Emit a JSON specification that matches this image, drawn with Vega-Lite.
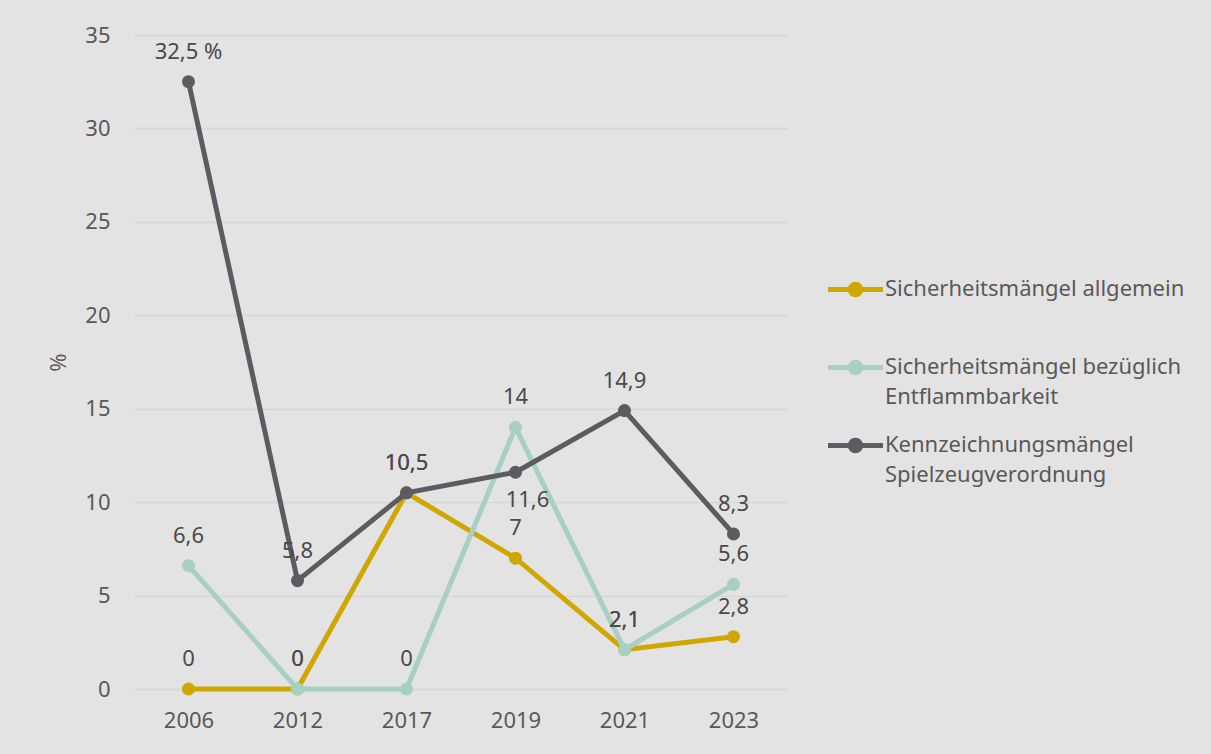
{
  "$schema": "https://vega.github.io/schema/vega-lite/v6.json",
  "width": 654,
  "height": 654,
  "autosize": {"type": "none"},
  "padding": {"left": 134, "top": 35, "right": 423, "bottom": 65},
  "background": "#e3e3e3",
  "config": {
    "view": {"stroke": null},
    "font": "Noto Sans",
    "axis": {"labelFont": "Noto Sans", "titleFont": "Noto Sans"},
    "legend": {"labelFont": "Noto Sans"}
  },
  "data": {
    "values": [
      {"jahr": "2006", "serie": "Sicherheitsmängel allgemein", "wert": 0, "label": "0"},
      {"jahr": "2012", "serie": "Sicherheitsmängel allgemein", "wert": 0, "label": "0"},
      {"jahr": "2017", "serie": "Sicherheitsmängel allgemein", "wert": 10.5, "label": "10,5"},
      {"jahr": "2019", "serie": "Sicherheitsmängel allgemein", "wert": 7, "label": "7"},
      {"jahr": "2021", "serie": "Sicherheitsmängel allgemein", "wert": 2.1, "label": "2,1"},
      {"jahr": "2023", "serie": "Sicherheitsmängel allgemein", "wert": 2.8, "label": "2,8"},
      {"jahr": "2006", "serie": "Sicherheitsmängel bezüglich Entflammbarkeit", "wert": 6.6, "label": "6,6"},
      {"jahr": "2012", "serie": "Sicherheitsmängel bezüglich Entflammbarkeit", "wert": 0, "label": "0"},
      {"jahr": "2017", "serie": "Sicherheitsmängel bezüglich Entflammbarkeit", "wert": 0, "label": "0"},
      {"jahr": "2019", "serie": "Sicherheitsmängel bezüglich Entflammbarkeit", "wert": 14, "label": "14"},
      {"jahr": "2021", "serie": "Sicherheitsmängel bezüglich Entflammbarkeit", "wert": 2.1, "label": "2,1"},
      {"jahr": "2023", "serie": "Sicherheitsmängel bezüglich Entflammbarkeit", "wert": 5.6, "label": "5,6"},
      {"jahr": "2006", "serie": "Kennzeichnungsmängel Spielzeugverordnung", "wert": 32.5, "label": "32,5 %"},
      {"jahr": "2012", "serie": "Kennzeichnungsmängel Spielzeugverordnung", "wert": 5.8, "label": "5,8"},
      {"jahr": "2017", "serie": "Kennzeichnungsmängel Spielzeugverordnung", "wert": 10.5, "label": "10,5"},
      {"jahr": "2019", "serie": "Kennzeichnungsmängel Spielzeugverordnung", "wert": 11.6, "label": "11,6"},
      {"jahr": "2021", "serie": "Kennzeichnungsmängel Spielzeugverordnung", "wert": 14.9, "label": "14,9"},
      {"jahr": "2023", "serie": "Kennzeichnungsmängel Spielzeugverordnung", "wert": 8.3, "label": "8,3"}
    ]
  },
  "encoding": {
    "x": {
      "field": "jahr",
      "type": "ordinal",
      "scale": {"type": "point", "padding": 0.5},
      "axis": {
        "title": null,
        "labelAngle": 0,
        "domain": false,
        "ticks": false,
        "grid": false,
        "labelFontSize": 22,
        "labelColor": "#595959",
        "labelPadding": 21
      }
    },
    "y": {
      "field": "wert",
      "type": "quantitative",
      "scale": {"domain": [0, 35], "nice": false},
      "axis": {
        "title": "%",
        "titleFontSize": 22,
        "titleFontWeight": "normal",
        "titleColor": "#595959",
        "titlePadding": 14,
        "values": [0, 5, 10, 15, 20, 25, 30, 35],
        "domain": false,
        "ticks": false,
        "gridColor": "#d6d6d6",
        "gridWidth": 1.5,
        "labelFontSize": 22,
        "labelColor": "#595959",
        "labelPadding": 24
      }
    }
  },
  "layer": [
    {
      "transform": [{"filter": "datum.serie == 'Sicherheitsmängel allgemein'"}],
      "mark": {"type": "line", "strokeWidth": 5, "point": {"filled": true, "size": 170, "opacity": 1}},
      "encoding": {
        "color": {
          "field": "serie",
          "type": "nominal",
          "scale": {
            "domain": ["Sicherheitsmängel allgemein", "Sicherheitsmängel bezüglich Entflammbarkeit", "Kennzeichnungsmängel Spielzeugverordnung"],
            "range": ["#cfa700", "#a8cfc3", "#5b5b62"]
          },
          "legend": {
            "title": null,
            "orient": "none",
            "legendX": 694,
            "legendY": 227,
            "padding": 0,
            "symbolType": "M-1,-0.09L1,-0.09L1,0.09L-1,0.09Z M0.28,0A0.28,0.28 0 1,1 -0.28,0A0.28,0.28 0 1,1 0.28,0Z",
            "symbolSize": 3025,
            "symbolStrokeWidth": 0,
            "labelFontSize": 22,
            "labelColor": "#595959",
            "labelLimit": 400,
            "labelOffset": 2,
            "labelBaseline": "top",
            "rowPadding": 10,
            "labelExpr": "datum.label == 'Sicherheitsmängel allgemein' ? ['Sicherheitsmängel allgemein', ''] : datum.label == 'Sicherheitsmängel bezüglich Entflammbarkeit' ? ['Sicherheitsmängel bezüglich', 'Entflammbarkeit'] : ['Kennzeichnungsmängel', 'Spielzeugverordnung']",
            "encode": {
              "symbols": {"update": {"fill": {"scale": "color", "field": "value"}, "strokeWidth": {"value": 0}}},
              "labels": {"update": {"dy": {"value": -11}, "lineHeight": {"value": 30}}}
            }
          }
        }
      }
    },
    {
      "transform": [{"filter": "datum.serie == 'Sicherheitsmängel bezüglich Entflammbarkeit'"}],
      "mark": {"type": "line", "strokeWidth": 5, "point": {"filled": true, "size": 170, "opacity": 1}},
      "encoding": {"color": {"field": "serie", "type": "nominal"}}
    },
    {
      "transform": [{"filter": "datum.serie == 'Kennzeichnungsmängel Spielzeugverordnung'"}],
      "mark": {"type": "line", "strokeWidth": 5, "point": {"filled": true, "size": 170, "opacity": 1}},
      "encoding": {"color": {"field": "serie", "type": "nominal"}}
    },
    {
      "transform": [{"filter": "!(datum.serie == 'Kennzeichnungsmängel Spielzeugverordnung' && datum.jahr == '2019')"}],
      "mark": {"type": "text", "dy": -30, "fontSize": 22, "color": "#4a4a4a", "baseline": "middle"},
      "encoding": {"text": {"field": "label", "type": "nominal"}}
    },
    {
      "transform": [{"filter": "datum.serie == 'Kennzeichnungsmängel Spielzeugverordnung' && datum.jahr == '2019'"}],
      "mark": {"type": "text", "dy": 28, "dx": 12, "fontSize": 22, "color": "#4a4a4a", "baseline": "middle"},
      "encoding": {"text": {"field": "label", "type": "nominal"}}
    }
  ]
}
